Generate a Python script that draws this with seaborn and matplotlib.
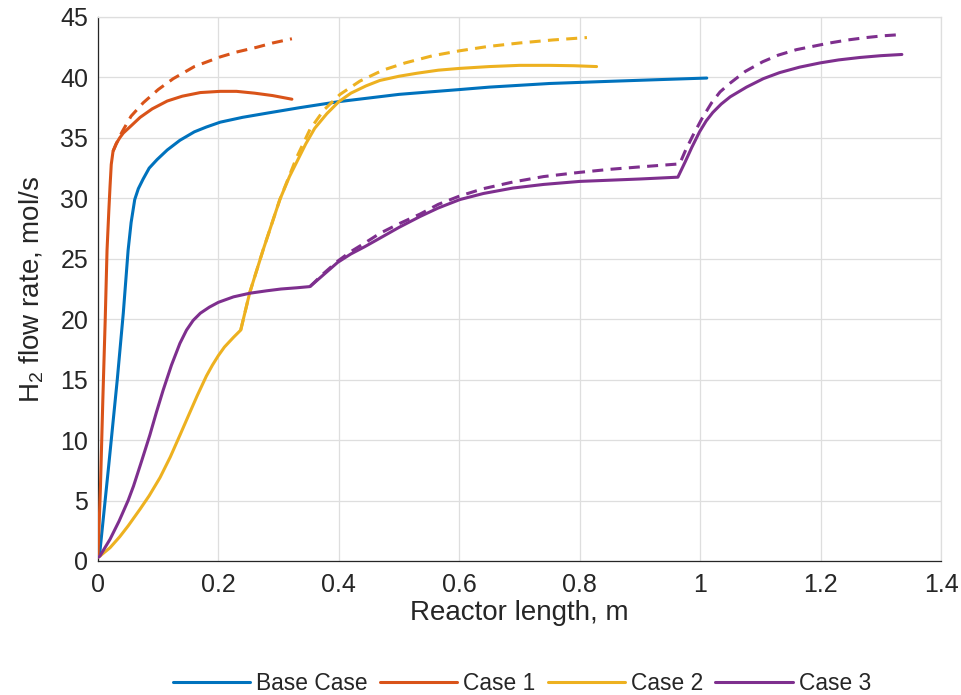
import matplotlib
matplotlib.use("Agg")
import matplotlib.pyplot as plt
import seaborn as sns
import pandas as pd
from matplotlib.ticker import FuncFormatter

# Hydrogen flow rate along the reactor: solid = simulated, dashed = reference
base_x = [0.0, 0.003, 0.018, 0.032, 0.042, 0.050, 0.055, 0.061, 0.067, 0.075, 0.085,
          0.098, 0.115, 0.136, 0.16, 0.18, 0.203, 0.24, 0.281, 0.335, 0.40, 0.45,
          0.50, 0.55, 0.601, 0.65, 0.70, 0.75, 0.833, 0.92, 1.011]
base_y = [0.4, 0.7, 8.0, 15.0, 20.5, 25.7, 28.0, 29.9, 30.8, 31.6, 32.5,
          33.2, 34.0, 34.8, 35.5, 35.9, 36.3, 36.7, 37.05, 37.5, 38.0, 38.3,
          38.6, 38.8, 39.0, 39.2, 39.35, 39.5, 39.65, 39.8, 39.95]

case1_x = [0.0, 0.004, 0.008, 0.012, 0.015, 0.018, 0.020, 0.022, 0.025, 0.030, 0.036,
           0.042, 0.055, 0.070, 0.090, 0.115, 0.14, 0.17, 0.203, 0.23, 0.26,
           0.29, 0.322]
case1_y = [0.4, 6.0, 13.3, 20.0, 25.7, 29.0, 31.0, 32.8, 33.9, 34.5, 35.0,
           35.4, 36.0, 36.7, 37.4, 38.05, 38.45, 38.75, 38.85, 38.85, 38.7,
           38.5, 38.2]
case1_ref_x = [0.025, 0.033, 0.040, 0.055, 0.075, 0.10, 0.125, 0.16, 0.203, 0.23,
               0.264, 0.29, 0.322]
case1_ref_y = [33.9, 34.8, 35.5, 36.8, 37.9, 39.0, 39.9, 40.9, 41.7, 42.1,
               42.5, 42.85, 43.2]

case2_x = [0.0, 0.003, 0.02, 0.036, 0.05, 0.07, 0.085, 0.103, 0.12, 0.136, 0.15,
           0.165, 0.18, 0.19, 0.20, 0.21, 0.225, 0.237, 0.252, 0.274, 0.302, 0.318,
           0.330, 0.345, 0.36, 0.38, 0.40, 0.42, 0.445, 0.468, 0.50, 0.53, 0.565,
           0.601, 0.65, 0.70, 0.75, 0.79, 0.828]
case2_y = [0.3, 0.4, 1.1, 2.0, 2.9, 4.3, 5.4, 6.9, 8.6, 10.4, 12.0,
           13.7, 15.3, 16.2, 17.0, 17.7, 18.5, 19.1, 22.2, 25.7, 29.9, 31.8,
           33.0, 34.5, 35.8, 37.0, 38.0, 38.7, 39.3, 39.75, 40.1, 40.35, 40.6,
           40.75, 40.9, 41.0, 41.0, 40.97, 40.9]
case2_ref_x = [0.237, 0.252, 0.274, 0.302, 0.330, 0.352, 0.375, 0.402, 0.435, 0.473,
               0.51, 0.556, 0.60, 0.646, 0.70, 0.755, 0.812]
case2_ref_y = [19.1, 22.2, 25.7, 29.9, 33.4, 35.7, 37.3, 38.6, 39.7, 40.6,
               41.2, 41.8, 42.2, 42.55, 42.85, 43.1, 43.3]

case3_x = [0.0, 0.003, 0.02, 0.035, 0.05, 0.059, 0.072, 0.086, 0.097, 0.108, 0.122,
           0.136, 0.147, 0.158, 0.17, 0.185, 0.20, 0.225, 0.252, 0.28, 0.304,
           0.33, 0.352, 0.375, 0.398, 0.42, 0.443, 0.468, 0.50, 0.535, 0.565,
           0.601, 0.64, 0.689, 0.74, 0.80, 0.85, 0.90, 0.963, 0.975, 0.986,
           0.999, 1.01, 1.021, 1.035, 1.05, 1.077, 1.105, 1.132, 1.165, 1.199,
           1.23, 1.265, 1.30, 1.335]
case3_y = [0.3, 0.4, 1.8, 3.3, 5.0, 6.2, 8.2, 10.4, 12.3, 14.1, 16.2,
           18.0, 19.1, 19.9, 20.5, 21.0, 21.4, 21.85, 22.15, 22.35, 22.5,
           22.6, 22.7, 23.7, 24.7, 25.4, 26.0, 26.7, 27.6, 28.5, 29.2,
           29.9, 30.4, 30.85, 31.15, 31.4, 31.5, 31.6, 31.75, 33.0, 34.2,
           35.5, 36.4, 37.1, 37.8, 38.4, 39.2, 39.9, 40.4, 40.85, 41.2,
           41.45, 41.65, 41.8, 41.9]
case3_ref_x = [0.352, 0.375, 0.398, 0.42, 0.443, 0.468, 0.50, 0.535, 0.565, 0.601,
               0.64, 0.689, 0.74, 0.80, 0.85, 0.90, 0.966, 0.976, 0.988, 1.003,
               1.019, 1.033, 1.049, 1.075, 1.104, 1.13, 1.16, 1.19, 1.215, 1.245,
               1.276, 1.305, 1.335]
case3_ref_y = [22.7, 23.8, 24.8, 25.6, 26.3, 27.1, 27.9, 28.7, 29.5, 30.2,
               30.8, 31.35, 31.8, 32.15, 32.4, 32.6, 32.85, 34.0, 35.2, 36.6,
               37.9, 38.8, 39.5, 40.5, 41.3, 41.85, 42.3, 42.6, 42.85, 43.1,
               43.3, 43.45, 43.55]

x_ticks = [0, 0.2, 0.4, 0.6, 0.8, 1.0, 1.2, 1.4]
y_ticks = [0, 5, 10, 15, 20, 25, 30, 35, 40, 45]

sns.set_style("white")
plt.rcParams["font.family"] = ["Liberation Sans", "DejaVu Sans"]
plt.rcParams["mathtext.fontset"] = "custom"
plt.rcParams["mathtext.rm"] = "Liberation Sans"
plt.rcParams["mathtext.it"] = "Liberation Sans"

fig = plt.figure(figsize=(9.61, 6.95), dpi=100)
ax = fig.add_axes([98 / 961, 1 - 561 / 695, (941 - 98) / 961, (561 - 17) / 695])

series = [
    ("Base Case", "#0072BD", base_x, base_y, None, None),
    ("Case 1", "#D95319", case1_x, case1_y, case1_ref_x, case1_ref_y),
    ("Case 2", "#EDB120", case2_x, case2_y, case2_ref_x, case2_ref_y),
    ("Case 3", "#7E2F8E", case3_x, case3_y, case3_ref_x, case3_ref_y),
]

lw = 2.2
for name, color, xs, ys, rx, ry in series:
    df = pd.DataFrame({"x": xs, "y": ys})
    sns.lineplot(data=df, x="x", y="y", ax=ax, color=color, linewidth=lw,
                 sort=False, estimator=None, label=name, zorder=3)
    if rx is not None:
        dr = pd.DataFrame({"x": rx, "y": ry})
        sns.lineplot(data=dr, x="x", y="y", ax=ax, color=color, linewidth=lw,
                     sort=False, estimator=None, zorder=3, legend=False)
        ax.lines[-1].set_dashes((3.6, 2.4))

ax.set_xlim(0, 1.4)
ax.set_ylim(0, 45)
ax.set_xticks(x_ticks)
ax.set_yticks(y_ticks)
ax.xaxis.set_major_formatter(FuncFormatter(lambda v, p: f"{v:g}"))
ax.grid(True, color="#dedede", linewidth=0.9, zorder=0)
ax.set_axisbelow(True)

dark = "#262626"
for side in ["left", "bottom"]:
    ax.spines[side].set_color(dark)
    ax.spines[side].set_linewidth(0.9)
for side in ["top", "right"]:
    ax.spines[side].set_color("#dedede")
    ax.spines[side].set_linewidth(0.9)

ax.tick_params(axis="both", direction="in", length=6, width=0.9, color=dark,
               labelsize=18, labelcolor=dark)
ax.tick_params(axis="x", pad=9)
ax.tick_params(axis="y", pad=7)

ax.set_xlabel("Reactor length, m", fontsize=20, color=dark, labelpad=2)
ax.set_ylabel("H$_2$ flow rate, mol/s", fontsize=20, color=dark, labelpad=10)

leg = ax.legend(loc="center", bbox_to_anchor=(522 / 961, 1 - 683 / 695),
                bbox_transform=fig.transFigure, ncol=4, frameon=False,
                fontsize=16.4, handlelength=3.4, handletextpad=0.26,
                columnspacing=0.53, borderpad=0, borderaxespad=0)
for h in leg.get_lines():
    h.set_linewidth(lw)

fig.savefig("out.png", dpi=100)
